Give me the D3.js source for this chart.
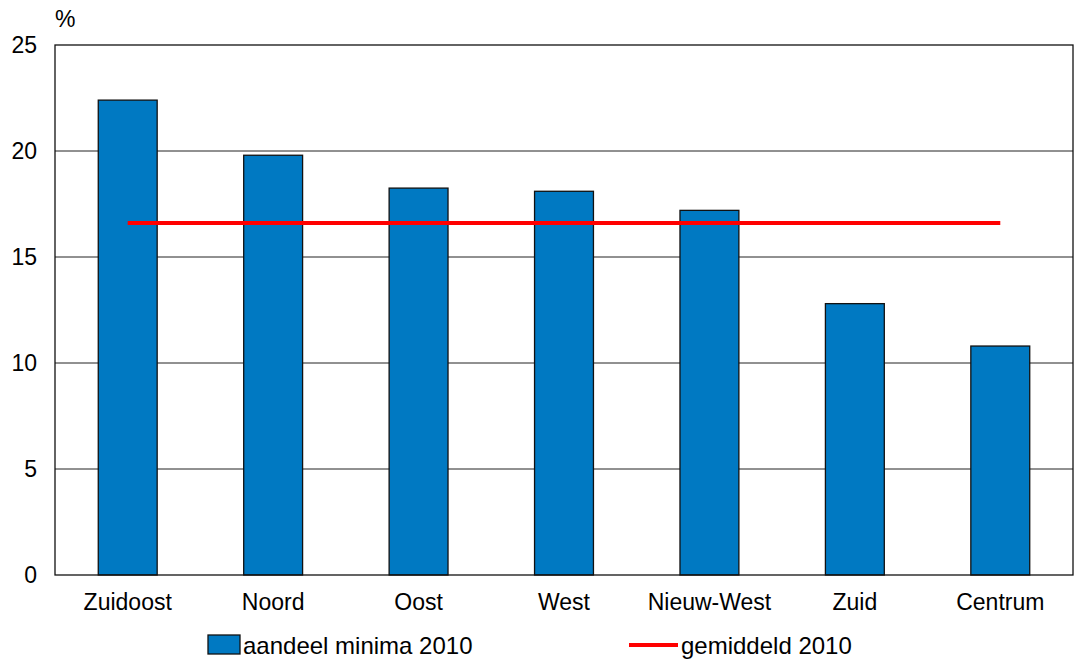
<!DOCTYPE html>
<html><head><meta charset="utf-8">
<script src="https://cdn.jsdelivr.net/npm/d3@7"></script>
<style>body{margin:0;background:#fff;} text{font-family:"Liberation Sans",Arial,sans-serif;}</style>
</head><body><svg id="c" width="1080" height="659"></svg>
<script>
const categories = ["Zuidoost","Noord","Oost","West","Nieuw-West","Zuid","Centrum"];
const aandeel = [22.4,19.8,18.25,18.1,17.2,12.8,10.8];
const gemiddeld = 16.6;
const yTicks = [0,5,10,15,20,25];
const seriesNames = ["aandeel minima 2010","gemiddeld 2010"];

const FS = 23;
const svg = d3.select("#c");
const L=55,R=1073,T=45,B=575;
const x = d3.scaleBand().domain(categories).range([L,R]).paddingInner(0.595).paddingOuter(0.2975);
const y = d3.scaleLinear().domain([0,25]).range([B,T]);

// gridlines
svg.append("g").selectAll("line").data(yTicks.filter(d=>d>0&&d<25)).join("line")
  .attr("x1",L).attr("x2",R).attr("y1",d=>y(d)).attr("y2",d=>y(d))
  .attr("stroke","#222").attr("stroke-width",1);

// bars
svg.append("g").selectAll("rect").data(categories).join("rect")
  .attr("x",d=>x(d)).attr("width",x.bandwidth())
  .attr("y",(d,i)=>y(aandeel[i])).attr("height",(d,i)=>y(0)-y(aandeel[i]))
  .attr("fill","#0079C2").attr("stroke","#111").attr("stroke-width",1.3);

// frame
svg.append("rect").attr("x",L).attr("y",T).attr("width",R-L).attr("height",B-T)
  .attr("fill","none").attr("stroke","#111").attr("stroke-width",1.3);

// average line
const c0 = x(categories[0])+x.bandwidth()/2, c1 = x(categories[categories.length-1])+x.bandwidth()/2;
svg.append("line").attr("x1",c0).attr("x2",c1).attr("y1",y(gemiddeld)).attr("y2",y(gemiddeld))
  .attr("stroke","#FF0000").attr("stroke-width",4);

// y axis labels
const yAxis = d3.axisLeft(y).tickValues(yTicks).tickSize(0).tickPadding(18);
const gy = svg.append("g").attr("transform",`translate(${L},0)`).call(yAxis);
gy.select(".domain").remove();
gy.selectAll("text").attr("font-size",FS).attr("fill","#000").attr("font-family","Liberation Sans, Arial, sans-serif");

// x axis labels
const xAxis = d3.axisBottom(x).tickSize(0).tickPadding(19);
const gx = svg.append("g").attr("transform",`translate(0,${B})`).call(xAxis);
gx.select(".domain").remove();
gx.selectAll("text").attr("font-size",FS).attr("fill","#000").attr("font-family","Liberation Sans, Arial, sans-serif");

svg.append("text").attr("x",55).attr("y",27).attr("font-size",FS).text("%");

// legend
svg.append("rect").attr("x",208).attr("y",635).attr("width",32).attr("height",19)
  .attr("fill","#0079C2").attr("stroke","#111").attr("stroke-width",1.3);
svg.append("text").attr("x",243).attr("y",654).attr("font-size",24).text(seriesNames[0]);
svg.append("line").attr("x1",629).attr("x2",678).attr("y1",645).attr("y2",645)
  .attr("stroke","#FF0000").attr("stroke-width",4);
svg.append("text").attr("x",681).attr("y",654).attr("font-size",24).text(seriesNames[1]);
</script></body></html>
